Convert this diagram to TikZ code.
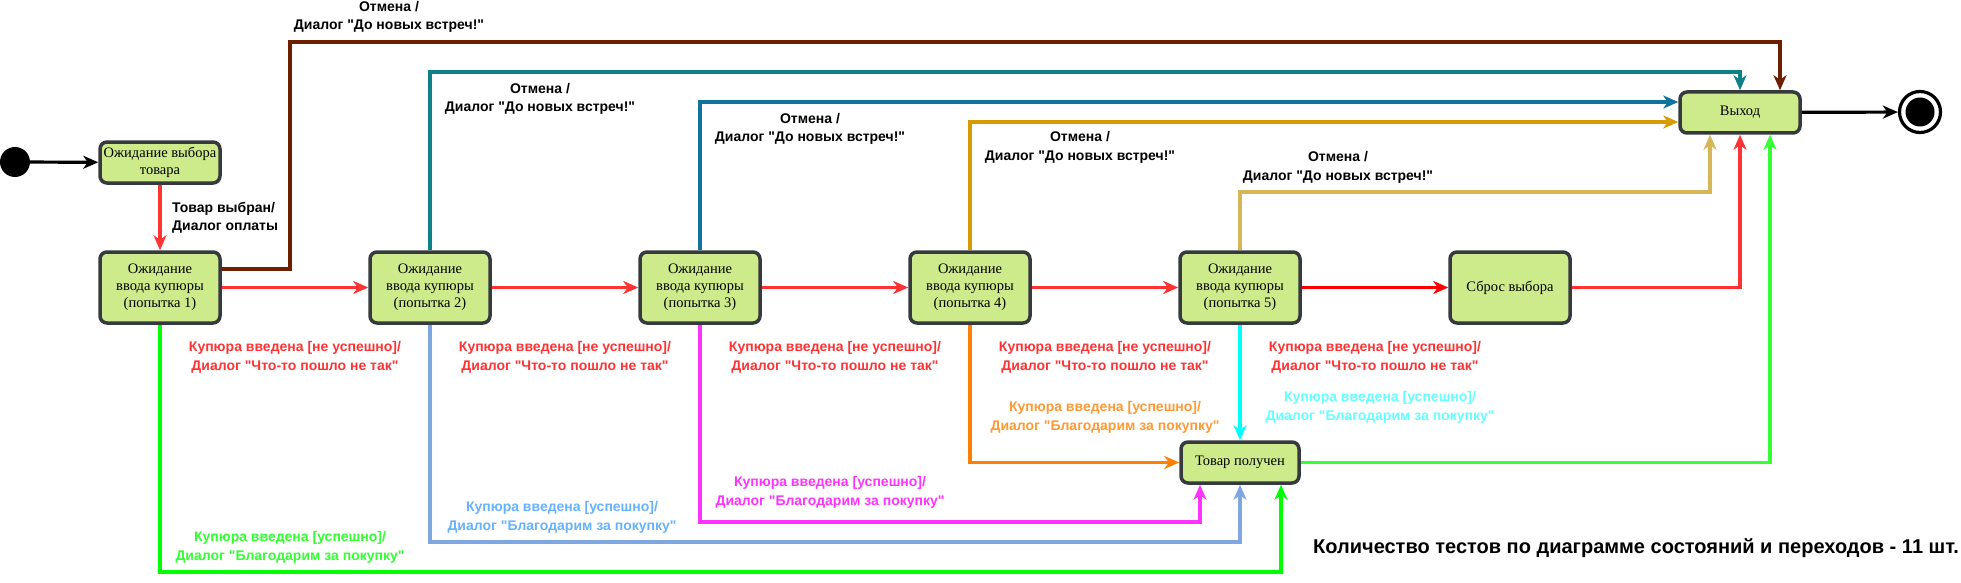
\documentclass[tikz,border=0pt]{standalone}
\usepackage{fontspec}
\setmainfont{Liberation Serif}
\newfontfamily\lsans{Liberation Sans}
\usetikzlibrary{arrows.meta,calc}
\definecolor{nodefill}{HTML}{CDEB8B}
\definecolor{nodeline}{HTML}{36393D}
\definecolor{cbrown}{HTML}{6D1F00}
\definecolor{cteal}{HTML}{0E8088}
\definecolor{cblue}{HTML}{10739E}
\definecolor{cgold}{HTML}{D79B00}
\definecolor{clgold}{HTML}{D6B656}
\definecolor{cred}{HTML}{FF3333}
\definecolor{cpure}{HTML}{FF0000}
\definecolor{cgreen}{HTML}{00FF00}
\definecolor{cgreenb}{HTML}{33FF33}
\definecolor{clblue}{HTML}{7EA6E0}
\definecolor{clbluet}{HTML}{66B2FF}
\definecolor{cmag}{HTML}{FF33FF}
\definecolor{corange}{HTML}{FF8000}
\definecolor{coranget}{HTML}{FF9933}
\definecolor{ccyan}{HTML}{00FFFF}
\definecolor{ccyant}{HTML}{66FFFF}
\tikzset{
  state/.style={draw=nodeline, fill=nodefill, line width=3.5pt, rounded corners=7pt,
    align=center, inner sep=0pt, font=\fontsize{14.5}{17}\selectfont},
  smallstate/.style={state, minimum width=120pt, minimum height=41pt},
  bigstate/.style={state, minimum width=120pt, minimum height=71pt},
  conn/.style={line width=3.2pt, -{Stealth[length=15pt,width=13pt,inset=4.5pt]}},
  lbl/.style={font=\lsans\bfseries\fontsize{14}{18.5}\selectfont, align=center, inner sep=0pt},
}
\begin{document}
\begin{tikzpicture}[x=1pt,y=-1pt]
\useasboundingbox (0,0) rectangle (1961,583);
% states
\node[circle, fill=black, minimum size=30pt, inner sep=0pt] (init) at (15,162) {};
\node[smallstate] (sel) at (160,162.5) {Ожидание выбора\\товара};
\node[bigstate] (a1) at (160,287.5) {Ожидание\\ввода купюры\\(попытка 1)};
\node[bigstate] (a2) at (430,287.5) {Ожидание\\ввода купюры\\(попытка 2)};
\node[bigstate] (a3) at (700,287.5) {Ожидание\\ввода купюры\\(попытка 3)};
\node[bigstate] (a4) at (970,287.5) {Ожидание\\ввода купюры\\(попытка 4)};
\node[bigstate] (a5) at (1240,287.5) {Ожидание\\ввода купюры\\(попытка 5)};
\node[bigstate] (reset) at (1510,287.5) {Сброс выбора};
\node[smallstate] (exit) at (1740,112.5) {Выход};
\node[smallstate, minimum width=118pt] (got) at (1240,462.5) {Товар получен};
\node[circle, draw=black, fill=white, line width=3.2pt, minimum size=41pt, inner sep=0pt] (final) at (1920,112) {};
\node[circle, fill=black, minimum size=29pt, inner sep=0pt] (finalin) at (1920,112) {};
% connectors
\draw[conn, black] (init) -- (sel);
\draw[conn, cred] (sel) -- (a1);
\draw[conn, cred] (a1) -- (a2);
\draw[conn, cred] (a2) -- (a3);
\draw[conn, cred] (a3) -- (a4);
\draw[conn, cred] (a4) -- (a5);
\draw[conn, cpure] (a5) -- (reset);
\draw[conn, black] (exit) -- (final);
\draw[conn, cbrown] (a1.east |- 0,269) -| (290,42) -| (exit.north -| 1780,0);
\draw[conn, cteal] (a2.north) |- (1740,72) -- (exit.north);
\draw[conn, cblue] (a3.north) |- (exit.west |- 0,102);
\draw[conn, cgold] (a4.north) |- (exit.west |- 0,122);
\draw[conn, clgold] (a5.north) |- (1710,192) -- (exit.south -| 1710,0);
\draw[conn, cred] (reset.east) -| (exit.south);
\draw[conn, cgreenb] (got.east) -| (exit.south -| 1770,0);
\draw[conn, cgreen] (a1.south) |- (1281,572) -- (got.south -| 1281,0);
\draw[conn, clblue] (a2.south) |- (1240,542) -- (got.south);
\draw[conn, cmag] (a3.south) |- (1200,522) -- (got.south -| 1200,0);
\draw[conn, corange] (a4.south) |- (got.west);
\draw[conn, ccyan] (a5.south) -- (got.north);
% labels
\node[lbl, align=left, anchor=west] (lsel) at (172,218) {Товар выбран/\\Диалог оплаты};
\node[lbl] (lc1) at (389,17) {Отмена /\\Диалог "До новых встреч!"};
\node[lbl] (lc2) at (540,99) {Отмена /\\Диалог "До новых встреч!"};
\node[lbl] (lc3) at (810,129) {Отмена /\\Диалог "До новых встреч!"};
\node[lbl] (lc4) at (1080,147.5) {Отмена /\\Диалог "До новых встреч!"};
\node[lbl] (lc5) at (1338,167.5) {Отмена /\\Диалог "До новых встреч!"};
\foreach \i/\x in {1/295,2/565,3/835,4/1105,5/1375}{
  \node[lbl, text=cred] (lf\i) at (\x,357.5) {Купюра введена [не успешно]/\\Диалог "Что-то пошло не так"};
}
\node[lbl, text=cgreenb] (ls1) at (290,547.5) {Купюра введена [успешно]/\\Диалог "Благодарим за покупку"};
\node[lbl, text=clbluet] (ls2) at (562,517.5) {Купюра введена [успешно]/\\Диалог "Благодарим за покупку"};
\node[lbl, text=cmag] (ls3) at (830,492.5) {Купюра введена [успешно]/\\Диалог "Благодарим за покупку"};
\node[lbl, text=coranget] (ls4) at (1105,417.5) {Купюра введена [успешно]/\\Диалог "Благодарим за покупку"};
\node[lbl, text=ccyant] (ls5) at (1380,407.5) {Купюра введена [успешно]/\\Диалог "Благодарим за покупку"};
\node[font=\lsans\bfseries\fontsize{20}{22}\selectfont, anchor=west, inner sep=0pt] (total) at (1313,548) {Количество тестов по диаграмме состояний и переходов - 11 шт.};
\end{tikzpicture}
\end{document}
